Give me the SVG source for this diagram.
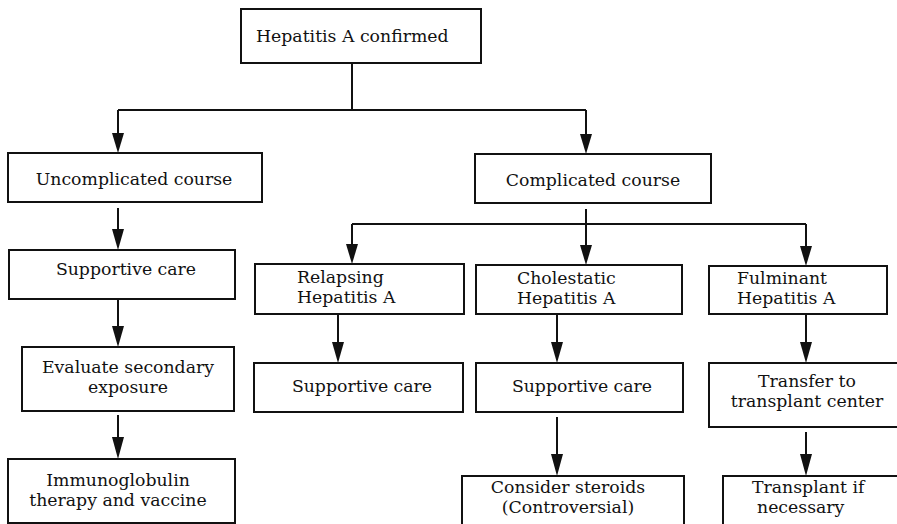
<svg xmlns="http://www.w3.org/2000/svg" width="897" height="524" viewBox="0 0 897 524">
<style>
rect{fill:#fff;stroke:#111;stroke-width:2}
text{font-family:"DejaVu Serif","Liberation Serif",serif;font-size:17.3px;fill:#111}
.c{text-anchor:middle}
.ln{fill:none;stroke:#111;stroke-width:2}
.ah{fill:#111}
</style>
<rect width="897" height="524" style="stroke:none"/>
<g id="connectors">
<path class="ln" d="M352,63 V110 M118,110 H586"/>
<path class="ln" d="M118,110 V134"/>
<path class="ah" d="M112,133 L124,133 L118,153 Z"/>
<path class="ln" d="M586,110 V134"/>
<path class="ah" d="M580,134 L592,134 L586,154 Z"/>
<path class="ln" d="M118,208 V230"/>
<path class="ah" d="M112,229 L124,229 L118,250 Z"/>
<path class="ln" d="M118,299 V327"/>
<path class="ah" d="M112,326 L124,326 L118,347 Z"/>
<path class="ln" d="M118,415 V438"/>
<path class="ah" d="M112,437 L124,437 L118,459 Z"/>
<path class="ln" d="M586,209 V246 M352,224 H806"/>
<path class="ln" d="M352,224 V245 M806,224 V246"/>
<path class="ah" d="M346,244 L358,244 L352,264 Z"/>
<path class="ah" d="M580,245 L592,245 L586,265 Z"/>
<path class="ah" d="M800,246 L812,246 L806,266 Z"/>
<path class="ln" d="M338,314 V343"/>
<path class="ah" d="M332,342 L344,342 L338,363 Z"/>
<path class="ln" d="M557,314 V343"/>
<path class="ah" d="M551,342 L563,342 L557,363 Z"/>
<path class="ln" d="M806,314 V343"/>
<path class="ah" d="M800,342 L812,342 L806,363 Z"/>
<path class="ln" d="M557,417 V455"/>
<path class="ah" d="M551,454 L563,454 L557,476 Z"/>
<path class="ln" d="M806,432 V455"/>
<path class="ah" d="M800,454 L812,454 L806,476 Z"/>
</g>
<g id="n-confirmed"><rect x="241" y="9" width="240" height="54"/><text x="256" y="42">Hepatitis A confirmed</text></g>
<g id="n-uncomplicated"><rect x="8" y="153" width="254" height="49"/><text class="c" x="134" y="185">Uncomplicated course</text></g>
<g id="n-complicated"><rect x="475" y="154" width="236" height="49"/><text class="c" x="593" y="186">Complicated course</text></g>
<g id="n-supportive1"><rect x="9" y="250" width="226" height="49"/><text class="c" x="126" y="275">Supportive care</text></g>
<g id="n-evaluate"><rect x="22" y="347" width="212" height="64"/><text class="c" x="128" y="373">Evaluate secondary</text><text class="c" x="128" y="393">exposure</text></g>
<g id="n-immuno"><rect x="8" y="459" width="227" height="64"/><text class="c" x="118" y="486">Immunoglobulin</text><text class="c" x="118" y="506">therapy and vaccine</text></g>
<g id="n-relapsing"><rect x="255" y="264" width="209" height="50"/><text x="297" y="283">Relapsing</text><text x="297" y="303">Hepatitis A</text></g>
<g id="n-cholestatic"><rect x="476" y="265" width="206" height="49"/><text x="517" y="284">Cholestatic</text><text x="517" y="304">Hepatitis A</text></g>
<g id="n-fulminant"><rect x="709" y="266" width="178" height="48"/><text x="737" y="284">Fulminant</text><text x="737" y="304">Hepatitis A</text></g>
<g id="n-supportive2"><rect x="254" y="363" width="209" height="49"/><text class="c" x="362" y="392">Supportive care</text></g>
<g id="n-supportive3"><rect x="476" y="363" width="207" height="49"/><text class="c" x="582" y="392">Supportive care</text></g>
<g id="n-transfer"><rect x="709" y="363" width="200" height="64"/><text class="c" x="807" y="387">Transfer to</text><text class="c" x="807" y="407">transplant center</text></g>
<g id="n-steroids"><rect x="462" y="476" width="222" height="60"/><text class="c" x="568" y="493">Consider steroids</text><text class="c" x="568" y="513">(Controversial)</text></g>
<g id="n-transplant"><rect x="723" y="476" width="190" height="60"/><text x="752" y="493">Transplant if</text><text x="757" y="513">necessary</text></g>
</svg>
